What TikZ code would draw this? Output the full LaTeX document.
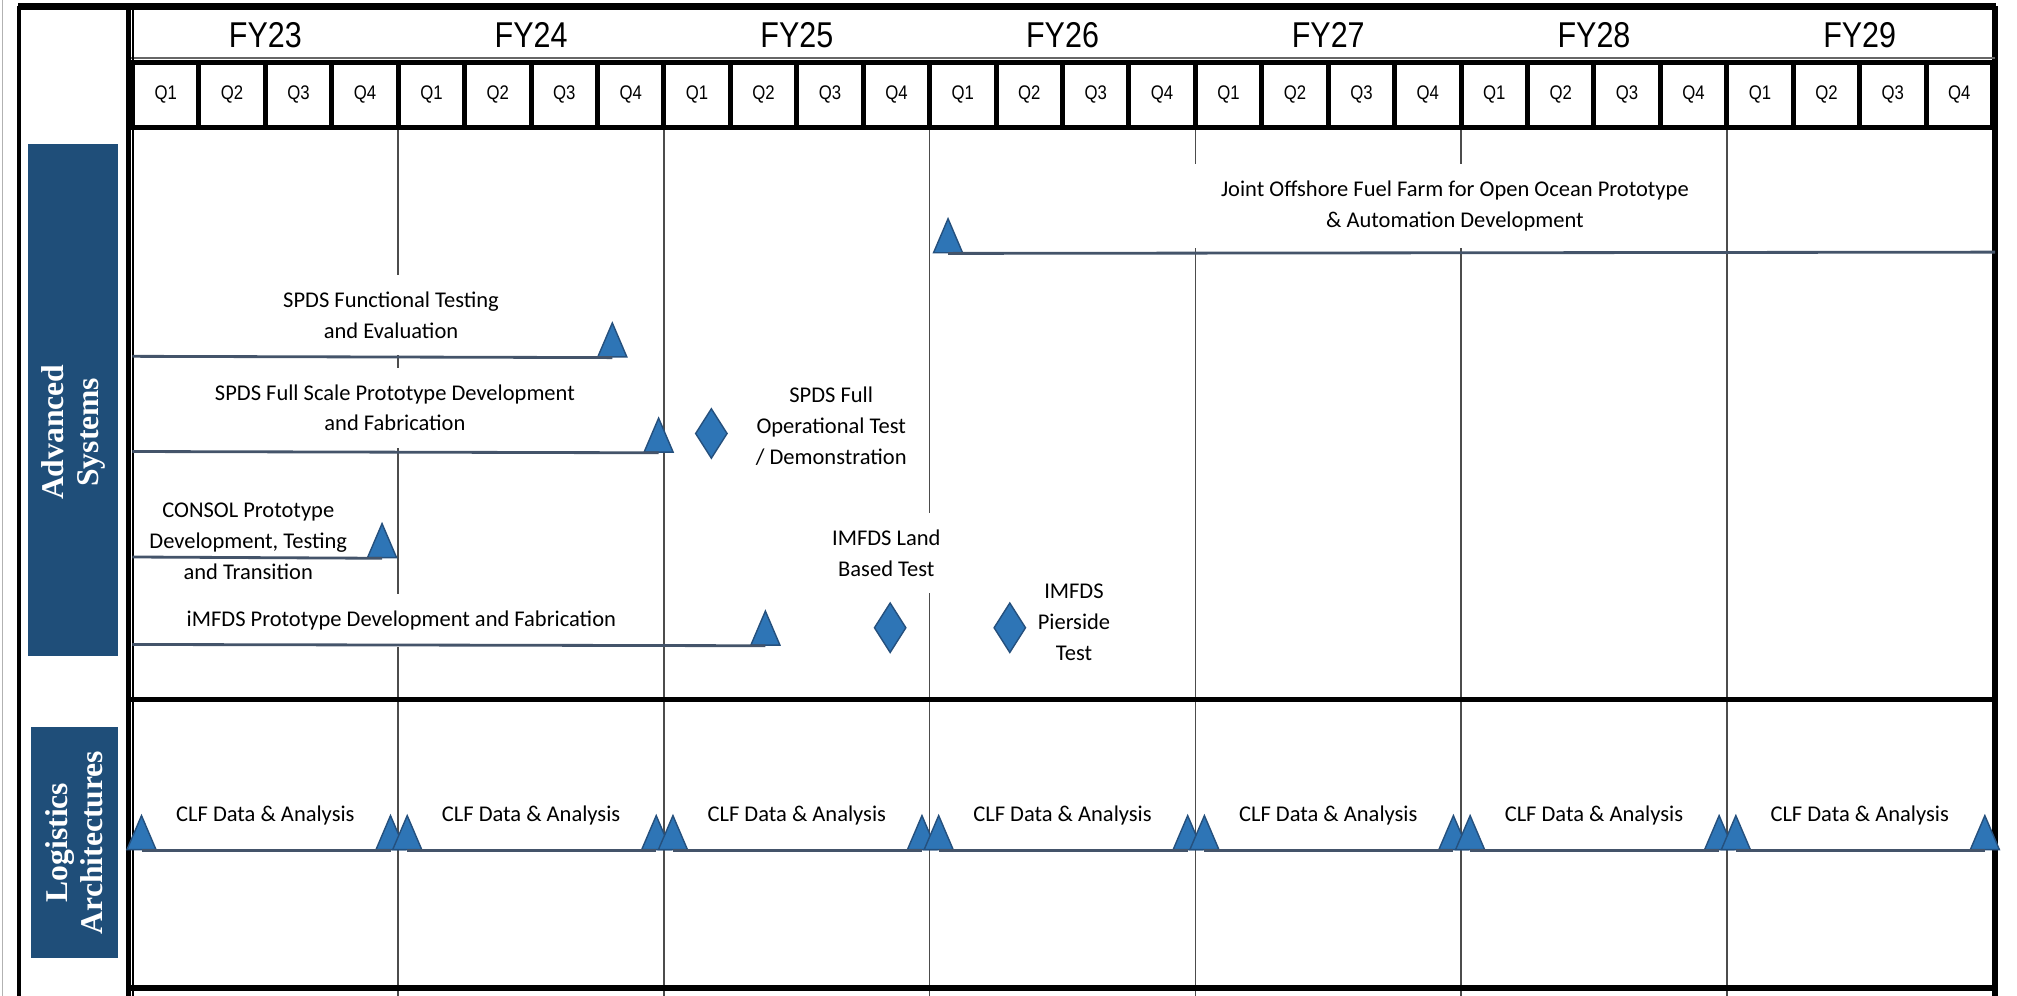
\documentclass[tikz,border=0pt]{standalone}
\usepackage{fontspec}
\usepackage{tikz}
\usetikzlibrary{shapes.geometric,positioning,calc}
\newfontfamily\calfont{Carlito}
\newfontfamily\narrowfont[FakeStretch=0.85]{Liberation Sans}
\newfontfamily\sidefont{Liberation Serif}
\definecolor{sideblue}{RGB}{31,78,121}
\definecolor{markblue}{RGB}{46,117,182}
\definecolor{markedge}{RGB}{37,80,125}
\definecolor{taskgray}{RGB}{68,84,106}

\begin{document}
\begin{tikzpicture}[x=0.1286mm, y=-0.1286mm,
    sidebox/.style={rectangle, fill=sideblue, rotate=90, inner sep=0pt},
    sidetext/.style={text=white, rotate=90, align=center, inner sep=0pt, font=\sidefont\bfseries\fontsize{9}{10}\selectfont},
    qbox/.style={rectangle, fill=white, minimum width=6.15mm, minimum height=6.0mm, inner sep=0pt, font=\narrowfont\fontsize{5.6}{6}\selectfont},
    fylabel/.style={inner sep=0pt, font=\narrowfont\fontsize{10.2}{11}\selectfont},
    tasklabel/.style={fill=white, align=center, inner xsep=2pt, inner ysep=4.8pt, font=\calfont\fontsize{6.4}{8.8}\selectfont},
    freelabel/.style={align=center, inner sep=1pt, font=\calfont\fontsize{6.4}{8.8}\selectfont},
    taskline/.style={draw=taskgray, line width=0.8pt},
    yearline/.style={draw=black!70, line width=0.45pt},
    milestone/.style={isosceles triangle, isosceles triangle stretches, shape border rotate=90, minimum width=2.9mm, minimum height=3.4mm, inner sep=0pt, fill=markblue, draw=markedge, line width=0.4pt, anchor=south},
    keyevent/.style={diamond, minimum width=3.2mm, minimum height=5.0mm, inner sep=0pt, fill=markblue, draw=markedge, line width=0.4pt}
  ]
  \useasboundingbox (0,0) rectangle (1568,774);
  % Draw the outer frame
  \draw[gray!60, line width=0.5pt] (2,0) -- (2,774);
  \draw[line width=1.1pt] (15,5) -- (15,774);
  \draw[line width=1.9pt] (14,5) -- (1552,5);
  \draw[line width=1.6pt] (1551,5) -- (1551,774);
  % Draw the quarter band
  \fill (101,47) rectangle (1551,101);
  \draw[black!60, line width=0.4pt] (101,45) -- (1551,45);
  \foreach \i in {0,...,27} {
      % Compute x of the quarter box
      \pgfmathsetmacro{\qx}{103+(\i+0.5)*51.64}
      \pgfmathtruncatemacro{\qn}{mod(\i,4)+1}
      \node[qbox] (q\i) at (\qx,73.5) {Q\qn};
    }
  \foreach \fy [count=\k from 0] in {23,...,29} {
      \pgfmathsetmacro{\fx}{103+(\k+0.5)*206.57}
      \node[fylabel] (fy\fy) at (\fx,27) {FY\fy};
    }
  % Draw the year lines
  \foreach \k in {1,...,6} {
      \pgfmathsetmacro{\bx}{103+\k*206.57}
      \draw[yearline] (\bx,101) -- (\bx,774);
    }
  \draw[line width=1.3pt] (100,5) -- (100,774);
  \draw[line width=0.4pt] (103.5,5) -- (103.5,774);
  \draw[line width=1.5pt] (101,544) -- (1551,544);
  \draw[line width=1.5pt] (101,768) -- (1551,768);
  % Side labels
  \node[sidebox, minimum width=51.2mm, minimum height=9.0mm] (advanced) at (57,311) {};
  \node[sidetext] (advancedtext) at ($(advanced.center)+(0,25)$) {Advanced\\Systems};
  \node[sidebox, minimum width=23.1mm, minimum height=8.7mm] (logistics) at (58,655) {};
  \node[sidetext] (logisticstext) at (logistics.center) {Logistics\\Architectures};
  % Task labels
  \node[tasklabel, minimum width=52.7mm] (jofflabel) at (1131,160) {Joint Offshore Fuel Farm for Open Ocean Prototype\\\& Automation Development};
  \node[tasklabel] (spdsftlabel) at (304,245) {SPDS Functional Testing\\and Evaluation};
  \node[tasklabel] (spdsfslabel) at (307,317) {SPDS Full Scale Prototype Development\\and Fabrication};
  \node[tasklabel] (consollabel) at (193,421) {CONSOL Prototype\\Development, Testing\\and Transition};
  \node[tasklabel] (imfdslabel) at (312,482) {iMFDS Prototype Development and Fabrication};
  \node[tasklabel] (landlabel) at (689,430) {IMFDS Land\\Based Test};
  % Draw the task lines and milestones
  \coordinate (joffend) at (1551,196);
  \node[milestone] (joffstart) at (737,197) {};
  \draw[taskline] (joffstart.south) -- (joffend);
  \coordinate (spdsftstart) at (103,277);
  \node[milestone] (spdsftend) at (476,278) {};
  \draw[taskline] (spdsftstart) -- (spdsftend.south);
  \coordinate (spdsfsstart) at (103,351);
  \node[milestone] (spdsfsend) at (512,352) {};
  \draw[taskline] (spdsfsstart) -- (spdsfsend.south);
  \coordinate (consolstart) at (103,433);
  \node[milestone] (consolend) at (297,434) {};
  \draw[taskline] (consolstart) -- (consolend.south);
  \coordinate (imfdsstart) at (103,501);
  \node[milestone] (imfdsend) at (595,502) {};
  \draw[taskline] (imfdsstart) -- (imfdsend.south);
  % Key events
  \node[keyevent] (spdsoptest) at (553,337) {};
  \node[freelabel, right=6.7pt of spdsoptest, yshift=2.2pt] (optestlabel) {SPDS Full\\Operational Test\\/ Demonstration};
  \node[keyevent] (landtest) at (692,488) {};
  \node[keyevent] (pierside) at (785,488) {};
  \node[freelabel, right=2pt of pierside, yshift=1.5pt] (pierlabel) {IMFDS\\Pierside\\Test};
  % CLF data and analysis
  \foreach \k in {0,...,6} {
      \pgfmathsetmacro{\xa}{103+\k*206.57+7}
      \pgfmathsetmacro{\xb}{103+(\k+1)*206.57-6}
      \pgfmathsetmacro{\xc}{103+(\k+0.5)*206.57}
      \node[milestone] (clfa\k) at (\xa,661) {};
      \node[milestone] (clfb\k) at (\xb,661) {};
      \draw[taskline] (clfa\k.south) -- (clfb\k.south);
      \node[freelabel] (clflabel\k) at (\xc,634) {CLF Data \& Analysis};
    }
\end{tikzpicture}
\end{document}
